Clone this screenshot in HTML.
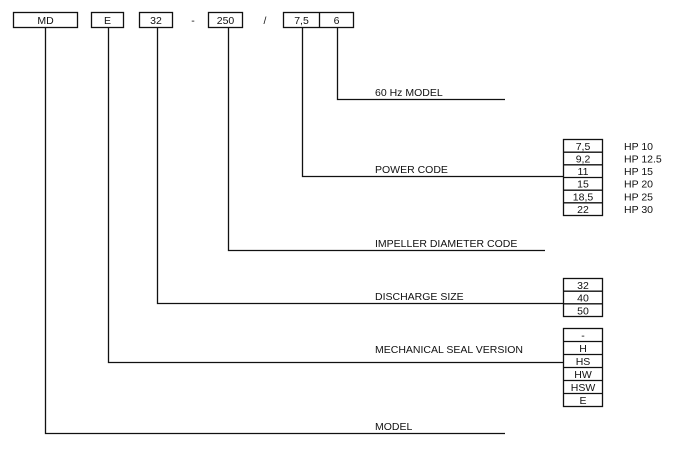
<!DOCTYPE html>
<html><head><style>
html,body{margin:0;padding:0;background:#fff;}
svg{display:block;}
text{font-family:"Liberation Sans",Arial,sans-serif;font-size:10.5px;fill:#111;}
</style></head><body>
<svg width="681" height="456" viewBox="0 0 681 456" xmlns="http://www.w3.org/2000/svg">
<g fill="none" stroke="#111" stroke-width="1.3">
<rect x="13.5" y="12.5" width="64" height="15"/>
<rect x="91.5" y="12.5" width="32" height="15"/>
<rect x="139.5" y="12.5" width="33" height="15"/>
<rect x="208.5" y="12.5" width="34" height="15"/>
<rect x="283.5" y="12.5" width="70" height="15"/>
<line x1="319.5" y1="12.5" x2="319.5" y2="27.5"/>
<polyline points="337.5,27.5 337.5,99.5 505,99.5"/>
<polyline points="302.5,27.5 302.5,176.5 563.5,176.5"/>
<polyline points="228.5,27.5 228.5,250.5 545,250.5"/>
<polyline points="157.5,27.5 157.5,303.5 563.5,303.5"/>
<polyline points="108.5,27.5 108.5,362.5 563.5,362.5"/>
<polyline points="45.5,27.5 45.5,433.5 505,433.5"/>
<rect x="563.5" y="139.5" width="39" height="76"/>
<line x1="563.5" y1="152.2" x2="602.5" y2="152.2"/>
<line x1="563.5" y1="164.8" x2="602.5" y2="164.8"/>
<line x1="563.5" y1="177.5" x2="602.5" y2="177.5"/>
<line x1="563.5" y1="190.2" x2="602.5" y2="190.2"/>
<line x1="563.5" y1="202.8" x2="602.5" y2="202.8"/>
<rect x="563.5" y="278.5" width="39" height="38"/>
<line x1="563.5" y1="291.2" x2="602.5" y2="291.2"/>
<line x1="563.5" y1="303.8" x2="602.5" y2="303.8"/>
<rect x="563.5" y="328.5" width="39" height="78"/>
<line x1="563.5" y1="341.5" x2="602.5" y2="341.5"/>
<line x1="563.5" y1="354.5" x2="602.5" y2="354.5"/>
<line x1="563.5" y1="367.5" x2="602.5" y2="367.5"/>
<line x1="563.5" y1="380.5" x2="602.5" y2="380.5"/>
<line x1="563.5" y1="393.5" x2="602.5" y2="393.5"/>
</g>
<g text-anchor="middle">
<text x="45.5" y="24">MD</text>
<text x="107.5" y="24">E</text>
<text x="156" y="24">32</text>
<text x="193" y="24">-</text>
<text x="225.5" y="24">250</text>
<text x="265" y="24">/</text>
<text x="301.5" y="24">7,5</text>
<text x="336.5" y="24">6</text>
<text x="583" y="150">7,5</text>
<text x="583" y="162.5">9,2</text>
<text x="583" y="175">11</text>
<text x="583" y="187.7">15</text>
<text x="583" y="200.4">18,5</text>
<text x="583" y="213">22</text>
<text x="583" y="289">32</text>
<text x="583" y="301.7">40</text>
<text x="583" y="314.4">50</text>
<text x="583" y="339">-</text>
<text x="583" y="352">H</text>
<text x="583" y="365">HS</text>
<text x="583" y="378">HW</text>
<text x="583" y="391">HSW</text>
<text x="583" y="404">E</text>
</g>
<text x="624" y="150">HP 10</text>
<text x="624" y="162.5">HP 12.5</text>
<text x="624" y="175">HP 15</text>
<text x="624" y="187.7">HP 20</text>
<text x="624" y="200.4">HP 25</text>
<text x="624" y="213">HP 30</text>
<text x="375" y="96">60 Hz MODEL</text>
<text x="375" y="173">POWER CODE</text>
<text x="375" y="247">IMPELLER DIAMETER CODE</text>
<text x="375" y="300">DISCHARGE SIZE</text>
<text x="375" y="353">MECHANICAL SEAL VERSION</text>
<text x="375" y="430">MODEL</text>
</svg>
</body></html>
